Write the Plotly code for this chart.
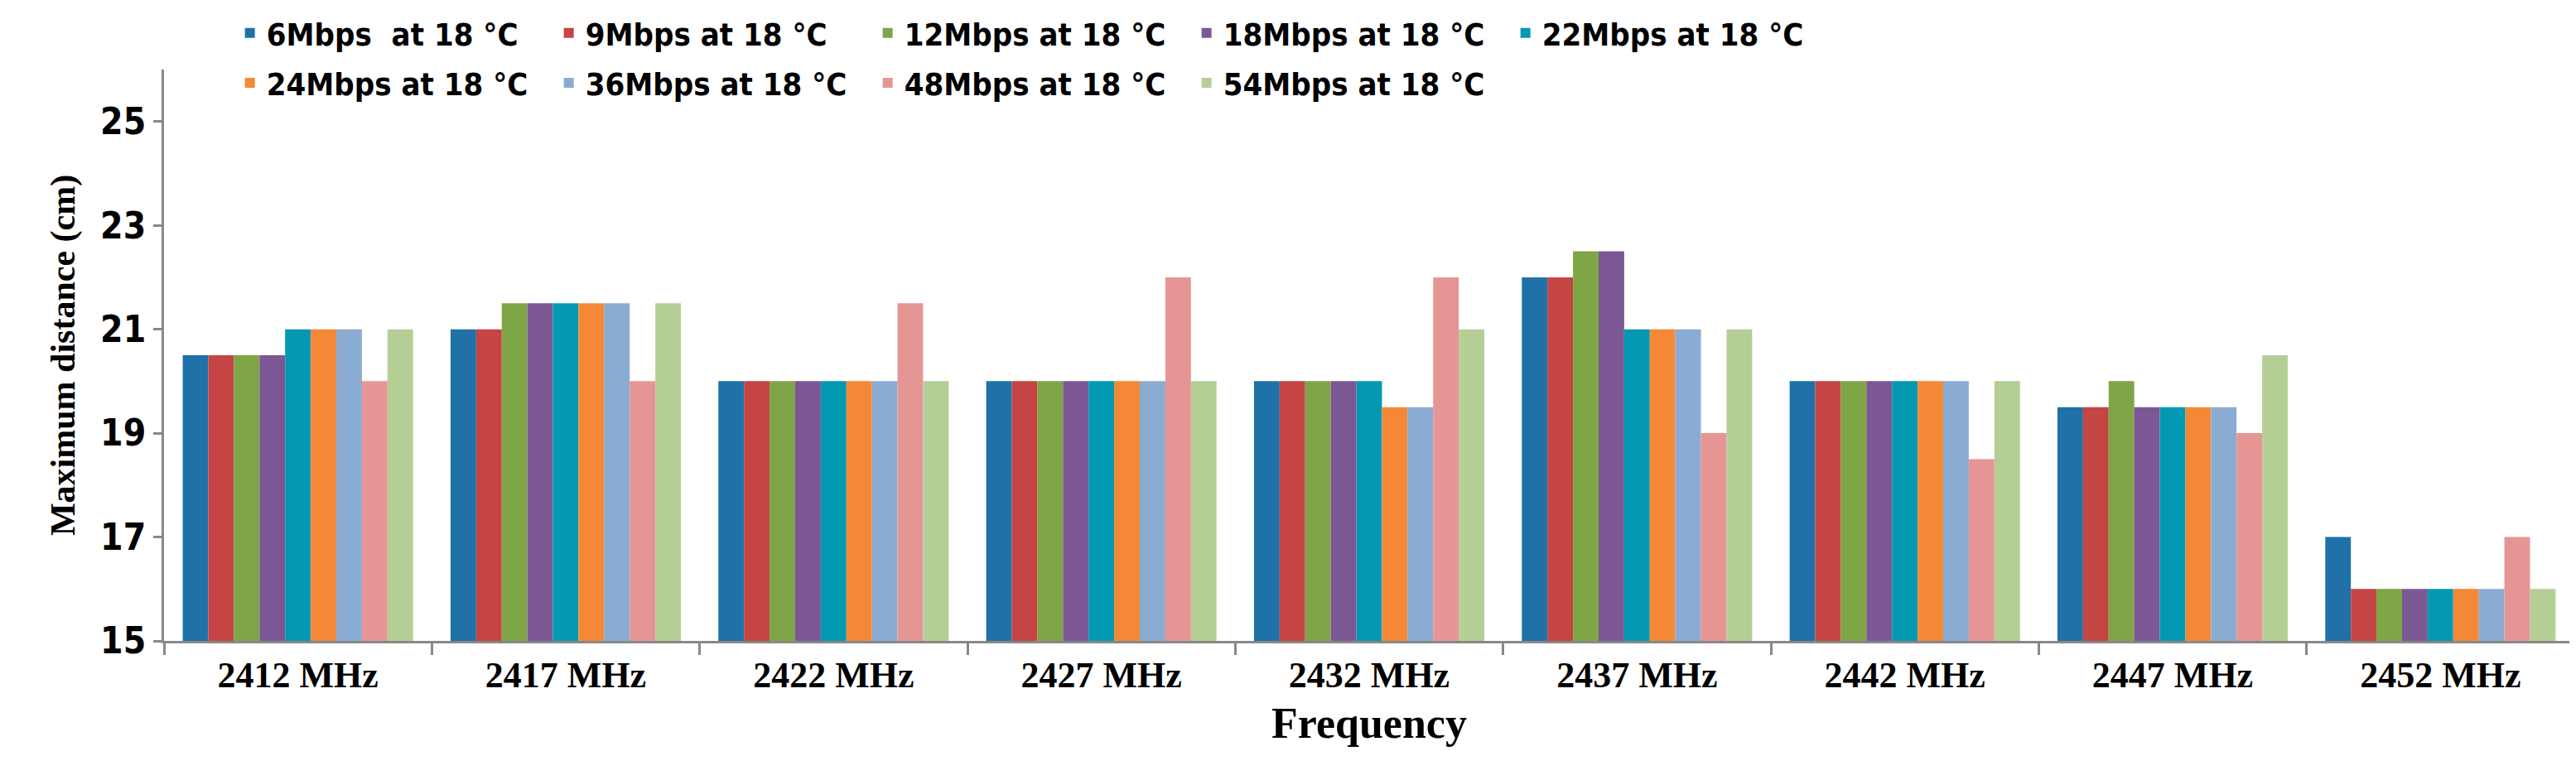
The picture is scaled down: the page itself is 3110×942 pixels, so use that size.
import plotly.graph_objects as go

freqs = ["2412 MHz","2417 MHz","2422 MHz","2427 MHz","2432 MHz","2437 MHz","2442 MHz","2447 MHz","2452 MHz"]
series_names = ["6Mbps  at 18 °C","9Mbps at 18 °C","12Mbps at 18 °C","18Mbps at 18 °C","22Mbps at 18 °C",
                "24Mbps at 18 °C","36Mbps at 18 °C","48Mbps at 18 °C","54Mbps at 18 °C"]
colors = ["#1f71a8","#c44543","#7ea546","#7b5894","#0399b3","#f48837","#8aacd3","#e69595","#b5ce96"]

v6  = [20.5, 21,   20, 20, 20,   22,   20,   19.5, 17]
v9  = [20.5, 21,   20, 20, 20,   22,   20,   19.5, 16]
v12 = [20.5, 21.5, 20, 20, 20,   22.5, 20,   20,   16]
v18 = [20.5, 21.5, 20, 20, 20,   22.5, 20,   19.5, 16]
v22 = [21,   21.5, 20, 20, 20,   21,   20,   19.5, 16]
v24 = [21,   21.5, 20, 20, 19.5, 21,   20,   19.5, 16]
v36 = [21,   21.5, 20, 20, 19.5, 21,   20,   19.5, 16]
v48 = [20,   20,   21.5, 22, 22, 19,   18.5, 19,   17]
v54 = [21,   21.5, 20, 20, 21,   21,   20,   20.5, 16]
values = [v6, v9, v12, v18, v22, v24, v36, v48, v54]

fig = go.Figure()
for i, (name, vals, c) in enumerate(zip(series_names, values, colors)):
    fig.add_trace(go.Bar(x=freqs, y=vals, name=name, marker_color=c, marker_line_width=0,
                         legend="legend" if i < 5 else "legend2"))

cond = "DejaVu Sans Condensed"
legend_common = dict(orientation="h", xref="container", yref="container", x=0.088,
                     xanchor="left", yanchor="middle", entrywidth=340, entrywidthmode="pixels",
                     font=dict(size=38, family=cond, weight="bold"),
                     traceorder="normal", itemwidth=30, bgcolor="rgba(0,0,0,0)")
fig.update_layout(
    width=3110, height=942,
    paper_bgcolor="white", plot_bgcolor="white",
    margin=dict(l=190, r=10, t=76, b=176, autoexpand=False),
    barmode="group", bargap=0.14, bargroupgap=0,
    font=dict(family=cond, color="black"),
    legend=dict(y=0.966, **legend_common),
    legend2=dict(y=0.902, **legend_common),
    showlegend=True,
)
fig.update_yaxes(range=[15, 26], tickvals=[15,17,19,21,23,25], showgrid=False,
                 showline=True, linecolor="#888", linewidth=3, ticks="outside", tickcolor="#888",
                 ticklen=10, tickwidth=3,
                 tickfont=dict(size=44, family=cond, weight="bold"),
                 title=dict(text="Maximum distance (cm)", font=dict(size=42, family="Liberation Serif", weight="bold"), standoff=18))
fig.update_xaxes(showgrid=False, showline=True, linecolor="#888", linewidth=3,
                 ticks="outside", tickson="boundaries", tickcolor="#888", ticklen=14, tickwidth=3,
                 tickfont=dict(size=44, family="Liberation Serif", weight="bold"),
                 title=dict(text="Frequency", font=dict(size=52, family="Liberation Serif", weight="bold"), standoff=16))
fig.write_html("out.html")
